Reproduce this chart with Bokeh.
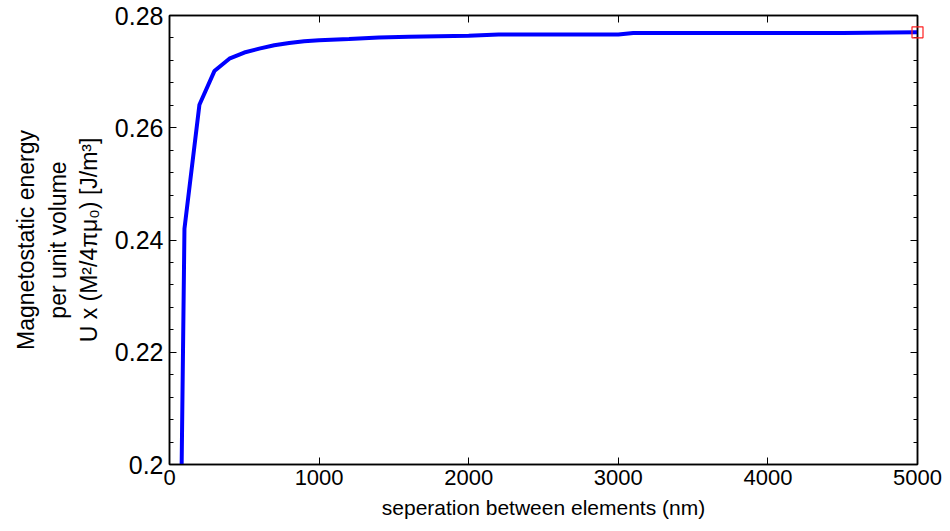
from bokeh.plotting import figure
from bokeh.models import (LinearAxis, SingleIntervalTicker, CustomJSTickFormatter, Range1d)
from bokeh.embed import file_html
from bokeh.resources import INLINE

# Magnetostatic energy per unit volume vs. separation between elements
separation = [50, 100, 200, 300, 400, 500, 600, 700, 800, 900, 1000,
              1200, 1400, 1600, 1800, 2000, 2200, 2500, 3000, 3100,
              3500, 4000, 4500, 5000]
energy = [0.130, 0.2420, 0.2641, 0.2701, 0.2723, 0.2734, 0.2741, 0.2747,
          0.2751, 0.2754, 0.2756, 0.2758, 0.2761, 0.2762, 0.2763, 0.2764,
          0.2766, 0.2766, 0.2766, 0.2769, 0.2769, 0.2769, 0.2769, 0.2770]

x_ticks_interval = 1000
y_ticks_interval = 0.02

p = figure(width=950, height=531, output_backend="svg", toolbar_location=None,
           x_range=Range1d(0, 5000), y_range=Range1d(0.2, 0.28),
           min_border_left=169, min_border_right=33,
           min_border_top=15, min_border_bottom=67,
           x_axis_location=None, y_axis_location=None)
p.grid.visible = False
p.outline_line_color = "black"
p.outline_line_width = 1.5
p.background_fill_color = "white"
p.border_fill_color = "white"

fmt = CustomJSTickFormatter(code="return parseFloat(tick.toFixed(4)).toString();")
blank = CustomJSTickFormatter(code="return '';")

def style(axis, minor):
    axis.axis_line_color = "black"
    axis.axis_line_width = 1.5
    axis.major_tick_in = 7
    axis.major_tick_out = 0
    axis.minor_tick_in = 4
    axis.minor_tick_out = 0
    axis.major_tick_line_color = "black"
    axis.minor_tick_line_color = "black" if minor else None
    axis.major_label_text_color = "black"
    axis.axis_label_text_color = "black"

xb = LinearAxis(ticker=SingleIntervalTicker(interval=x_ticks_interval, num_minor_ticks=0),
                axis_label="seperation between elements (nm)")
style(xb, False)
xb.major_label_text_font = "Liberation Sans"
xb.major_label_text_font_size = "22px"
xb.major_label_standoff = 5
xb.axis_label_text_font = "Liberation Sans"
xb.axis_label_text_font_size = "21px"
xb.axis_label_text_font_style = "normal"
xb.axis_label_standoff = 8
p.add_layout(xb, "below")

xt = LinearAxis(ticker=SingleIntervalTicker(interval=x_ticks_interval, num_minor_ticks=0),
                formatter=blank)
style(xt, False)
xt.major_label_standoff = 0
p.add_layout(xt, "above")

yl = LinearAxis(ticker=SingleIntervalTicker(interval=y_ticks_interval, num_minor_ticks=5),
                formatter=fmt,
                axis_label="Magnetostatic energy\nper unit volume\nU x (M\u00b2/4\u03c0\u03bc\u2080) [J/m\u00b3]")
style(yl, True)
yl.major_label_text_font = "Liberation Sans"
yl.major_label_text_font_size = "25px"
yl.major_label_standoff = 6
yl.axis_label_text_font = "Liberation Sans"
yl.axis_label_text_font_size = "23px"
yl.axis_label_text_font_style = "normal"
yl.axis_label_standoff = 10
p.add_layout(yl, "left")

yr = LinearAxis(ticker=SingleIntervalTicker(interval=y_ticks_interval, num_minor_ticks=5),
                formatter=blank)
style(yr, True)
yr.major_label_standoff = 0
p.add_layout(yr, "right")

p.line(separation, energy, line_color="#0000ff", line_width=4)
end = p.scatter([separation[-1]], [energy[-1]], marker="square", size=11,
                fill_color=None, line_color="#ff2020", line_width=1.2)
end.level = "overlay"

open("out.html", "w").write(file_html(p, INLINE))
